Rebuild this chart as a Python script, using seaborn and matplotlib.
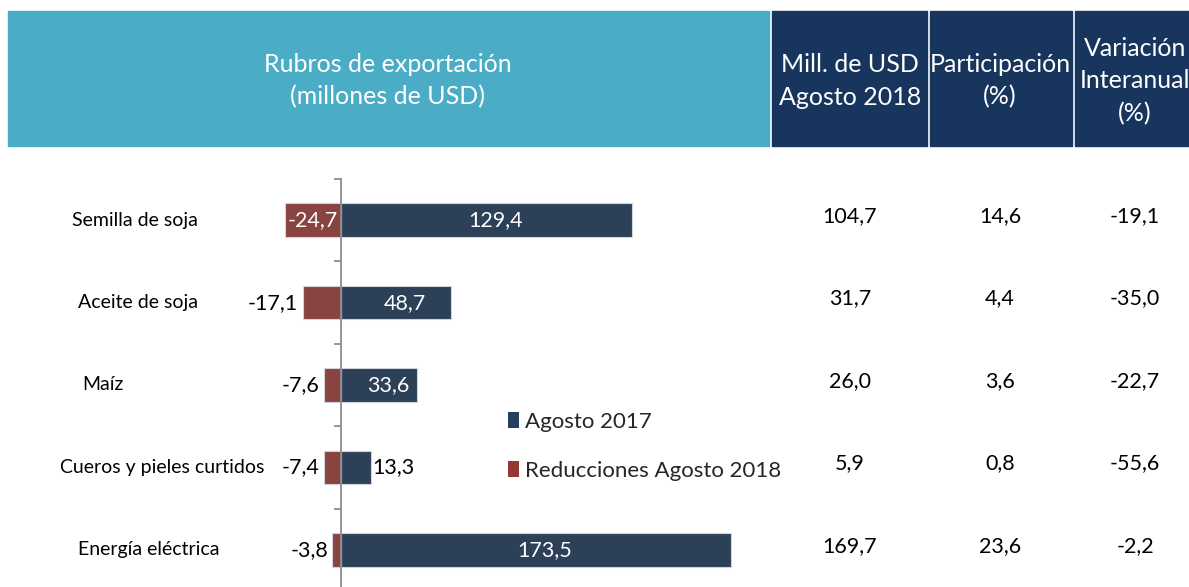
import matplotlib
matplotlib.use("Agg")
import matplotlib.pyplot as plt
import matplotlib.transforms as mtransforms
from matplotlib.patches import Rectangle, Patch
import seaborn as sns
import pandas as pd

# ---------------- data ----------------
categories = ["Semilla de soja", "Aceite de soja", "Maíz",
              "Cueros y pieles curtidos", "Energía eléctrica"]
agosto_2017 = [129.4, 48.7, 33.6, 13.3, 173.5]
reducciones_2018 = [-24.7, -17.1, -7.6, -7.4, -3.8]
mill_usd_2018 = [104.7, 31.7, 26.0, 5.9, 169.7]
participacion = [14.6, 4.4, 3.6, 0.8, 23.6]
variacion = [-19.1, -35.0, -22.7, -55.6, -2.2]
series_names = ["Agosto 2017", "Reducciones Agosto 2018"]
header_main = "Rubros de exportación\n(millones de USD)"
header_cols = ["Mill. de USD\nAgosto 2018", "Participación\n(%)",
               "Variación\nInteranual\n(%)"]

# ---------------- style ----------------
sns.set_style("white")
plt.rcParams["font.family"] = ["Lato", "DejaVu Sans"]

W, H = 1189, 587
BLUE = "#253F5F"
RED = "#953735"
TEAL = "#4BACC6"
NAVY = "#18365D"

fig = plt.figure(figsize=(W / 100, H / 100), dpi=100)


def fx(px):
    return px / W


def fy(py):
    return 1 - py / H


# header boxes
fig.patches.append(Rectangle((fx(8), fy(146)), fx(769) - fx(8), fy(11) - fy(146),
                             transform=fig.transFigure, color=TEAL, zorder=0))
col_boxes = [(772, 927), (930, 1072), (1075, 1189)]
for x0, x1 in col_boxes:
    fig.patches.append(Rectangle((fx(x0), fy(146)), fx(x1) - fx(x0), fy(11) - fy(146),
                                 transform=fig.transFigure, color=NAVY, zorder=0))

fig.text(fx(388), fy(81), header_main, ha="center", va="center", color="white",
         fontsize=18, linespacing=1.48)
col_centers = [850, 1000, 1135]
for cx, txt in zip(col_centers, header_cols):
    fig.text(fx(cx), fy(81), txt, ha="center", va="center", color="white",
             fontsize=18, linespacing=1.48)

# ---------------- bar chart ----------------
xmin, xmax = -30, 185
px_per_unit = 2.249
ax_left_px = 341 + xmin * px_per_unit
ax_w_px = (xmax - xmin) * px_per_unit
ax_top_px, ax_bot_px = 179, 591
ax = fig.add_axes([fx(ax_left_px), fy(ax_bot_px), ax_w_px / W, (ax_bot_px - ax_top_px) / H])
ax.patch.set_alpha(0)

df = pd.DataFrame({
    "Rubro": categories * 2,
    "Serie": [series_names[0]] * len(categories) + [series_names[1]] * len(categories),
    "Valor": agosto_2017 + reducciones_2018,
})
sns.barplot(data=df, y="Rubro", x="Valor", hue="Serie", orient="h", dodge=False,
            palette=[BLUE, RED], width=0.41, edgecolor="#D0D5DC", linewidth=0.8,
            legend=False, ax=ax, order=categories)

ax.set_xlim(xmin, xmax)
ax.set_ylim(len(categories) - 0.5, -0.5)
ax.set_xlabel("")
ax.set_ylabel("")
ax.set_xticks([])
for s in ["top", "right", "bottom"]:
    ax.spines[s].set_visible(False)
ax.spines["left"].set_position(("data", 0))
ax.spines["left"].set_color("#8C8C8C")
ax.spines["left"].set_linewidth(1.3)
ax.set_yticks([i - 0.5 for i in range(len(categories) + 1)])
ax.set_yticklabels([])
ax.tick_params(axis="y", direction="out", length=5, width=1.3, color="#8C8C8C", left=True)


def fmt(v):
    return f"{v:.1f}".replace(".", ",")


VAL_FS = 15.5
for i, v in enumerate(agosto_2017):
    if v >= 20:
        ax.text(v / 2 + 4, i, fmt(v), ha="center", va="center", color="white", fontsize=VAL_FS)
    else:
        ax.text(v + 0.5, i, fmt(v), ha="left", va="center", color="black", fontsize=VAL_FS)
for i, v in enumerate(reducciones_2018):
    if v <= -20:
        ax.text(-1.2, i, fmt(v), ha="right", va="center", color="white", fontsize=VAL_FS)
    else:
        ax.text(v - 2.0, i, fmt(v), ha="right", va="center", color="black", fontsize=VAL_FS)

# category labels (individual text boxes like the source slide)
label_x_px = [72, 78, 82, 60, 78]
tr_cat = mtransforms.blended_transform_factory(fig.transFigure, ax.transData)
for i, (lab, lx) in enumerate(zip(categories, label_x_px)):
    fig.text(fx(lx), i, lab, transform=tr_cat, ha="left", va="center",
             color="black", fontsize=14)

# table columns
for i in range(len(categories)):
    for cx, vals in zip(col_centers, [mill_usd_2018, participacion, variacion]):
        fig.text(fx(cx), i - 0.05, fmt(vals[i]), transform=tr_cat, ha="center",
                 va="center", color="black", fontsize=VAL_FS)

# legend
handles = [Patch(facecolor=BLUE, edgecolor="none"), Patch(facecolor=RED, edgecolor="none")]
fig.legend(handles, series_names, loc="upper left",
           bbox_to_anchor=(fx(508), fy(412)), frameon=False, fontsize=16,
           handlelength=0.5, handleheight=0.75, handletextpad=0.25,
           labelspacing=1.3, borderpad=0, borderaxespad=0)

fig.savefig("out.png", dpi=100)
